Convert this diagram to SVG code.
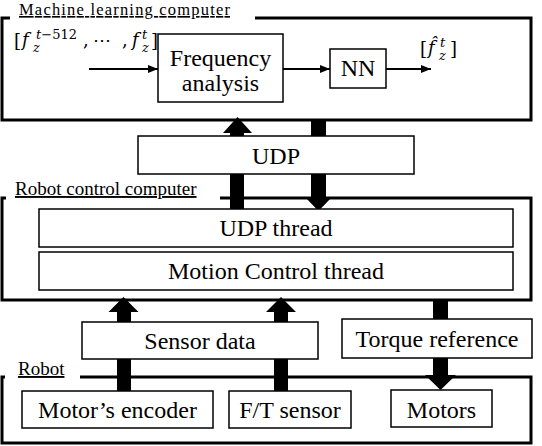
<svg xmlns="http://www.w3.org/2000/svg" width="542" height="446" viewBox="0 0 542 446">
<defs>
<style>
.frame{fill:none;stroke:#000;stroke-width:3}
.box{fill:#fff;stroke:#000;stroke-width:1.5}
.t{font-family:"Liberation Serif","Times New Roman",serif;font-size:24px;fill:#000;text-anchor:middle}
.title{font-family:"Liberation Serif","Times New Roman",serif;font-size:19px;fill:#000;text-decoration:underline}
.m{font-family:"DejaVu Serif","Liberation Serif",serif;font-size:18px;fill:#000}
.i{font-style:italic}
.s{font-size:13px}
.thin{stroke:#000;stroke-width:2;fill:none}
.thick{fill:#000;stroke:none}
</style>
<marker id="ah" markerUnits="userSpaceOnUse" markerWidth="10" markerHeight="8" refX="10" refY="4" orient="auto">
<path d="M0,0 L10,4 L0,8 z" fill="#000"/>
</marker>
</defs>
<rect width="542" height="446" fill="#fff"/>

<g id="ml-computer">
<path class="frame" d="M10,18 H2 V120 H531 V18 H255"/>
<text class="title" x="19" y="15" style="font-size:16.5px" textLength="211" lengthAdjust="spacing">Machine learning computer</text>
</g>
<g id="robot-control-computer">
<path class="frame" d="M6,198 H2 V300 H531 V198 H220"/>
<text class="title" x="15" y="195">Robot control computer</text>
</g>
<g id="robot">
<path class="frame" d="M5,377 H2 V443 H531 V377 H80"/>
<text class="title" x="18" y="375">Robot</text>
</g>

<g id="connectors">
<line class="thin" x1="89" y1="69" x2="158" y2="69" marker-end="url(#ah)"/>
<line class="thin" x1="283" y1="69" x2="330" y2="69" marker-end="url(#ah)"/>
<line class="thin" x1="386" y1="69" x2="431" y2="69" marker-end="url(#ah)"/>
<polygon class="thick" points="230,209 230,133 223,133 237.5,117 252,133 244,133 244,209"/>
<polygon class="thick" points="311,120 326,120 326,197 332,197 318.5,211 305,197 311,197"/>
<polygon class="thick" points="117,391 117,312 108.5,312 123.5,297 138.5,312 131,312 131,391"/>
<polygon class="thick" points="274,391 274,312 266,312 281,297 296,312 288,312 288,391"/>
<polygon class="thick" points="433,300 448,300 448,375 456,375 440.5,390 425,375 433,375"/>
</g>

<g id="input-label">
<text class="m"><tspan x="14" y="47">[</tspan><tspan class="i" x="22" y="46">f</tspan><tspan class="s i" x="36" y="39">t</tspan><tspan class="s">−512</tspan><tspan class="s i" x="33" y="52">z</tspan><tspan x="83" y="46">,</tspan><tspan x="93" y="46">⋯</tspan><tspan x="122" y="46">,</tspan><tspan class="i" x="132" y="46">f</tspan><tspan class="s i" x="142" y="39">t</tspan><tspan class="s i" x="142" y="52">z</tspan><tspan x="151" y="47">]</tspan></text>
</g>
<g id="output-label">
<text class="m"><tspan x="420" y="55">[</tspan><tspan class="i" x="428" y="54">f̂</tspan><tspan class="s i" x="440" y="47">t</tspan><tspan class="s i" x="439" y="60">z</tspan><tspan x="450" y="55">]</tspan></text>
</g>

<g id="frequency-analysis">
<rect class="box" x="158" y="34" width="125" height="68"/>
<text class="t" x="220.5" y="66">Frequency</text>
<text class="t" x="220.5" y="91">analysis</text>
</g>
<g id="nn">
<rect class="box" x="330" y="49" width="56" height="39"/>
<text class="t" x="358" y="76">NN</text>
</g>
<g id="udp">
<rect class="box" x="138" y="136" width="276" height="38"/>
<text class="t" x="276" y="164">UDP</text>
</g>
<g id="udp-thread">
<rect class="box" x="39" y="209" width="474" height="38"/>
<text class="t" x="276" y="236">UDP thread</text>
</g>
<g id="motion-control-thread">
<rect class="box" x="39" y="252" width="474" height="38"/>
<text class="t" x="276" y="279">Motion Control thread</text>
</g>
<g id="sensor-data">
<rect class="box" x="82" y="322" width="236" height="37"/>
<text class="t" x="200" y="349">Sensor data</text>
</g>
<g id="torque-reference">
<rect class="box" x="342" y="319" width="190" height="39"/>
<text class="t" x="437" y="347">Torque reference</text>
</g>
<g id="motors-encoder">
<rect class="box" x="22" y="391" width="191" height="37"/>
<text class="t" x="117.5" y="418">Motor’s encoder</text>
</g>
<g id="ft-sensor">
<rect class="box" x="229" y="391" width="122" height="37"/>
<text class="t" x="290" y="418">F/T sensor</text>
</g>
<g id="motors">
<rect class="box" x="391" y="390" width="101" height="37"/>
<text class="t" x="441.5" y="418">Motors</text>
</g>
</svg>
